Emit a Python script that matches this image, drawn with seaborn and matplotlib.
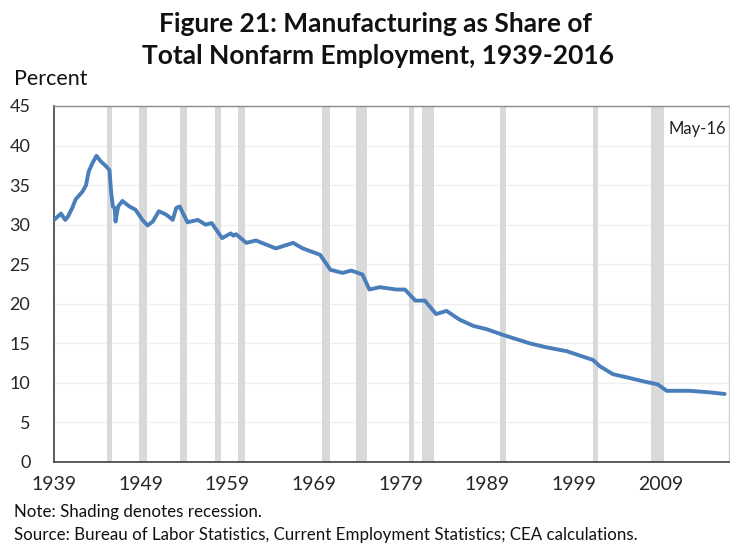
import matplotlib
matplotlib.use("Agg")
import matplotlib.pyplot as plt
import seaborn as sns
import pandas as pd

# ---- data ----
years = [1939.0, 1939.3, 1939.8, 1940.3, 1940.6, 1941.1, 1941.5, 1942.3, 1942.7, 1943.0,
         1943.4, 1943.9, 1944.4, 1945.0, 1945.4, 1945.6, 1945.8, 1946.0, 1946.1, 1946.4,
         1946.9, 1947.7, 1948.4, 1949.2, 1949.8, 1950.4, 1951.1, 1951.9, 1952.5, 1952.7,
         1953.1, 1953.5, 1954.4, 1955.6, 1956.5, 1957.2, 1958.4, 1959.4, 1959.7, 1960.0,
         1961.2, 1962.3, 1964.6, 1966.6, 1967.7, 1969.7, 1970.9, 1972.3, 1973.3, 1974.6,
         1975.4, 1976.6, 1978.5, 1979.5, 1980.7, 1981.8, 1983.1, 1984.3, 1985.8, 1987.4,
         1988.9, 1991.0, 1993.9, 1995.8, 1998.2, 2000.1, 2001.2, 2002.0, 2003.5, 2005.1,
         2007.0, 2008.7, 2009.7, 2012.4, 2014.7, 2016.4]
share = [30.6, 30.9, 31.4, 30.6, 31.0, 32.1, 33.2, 34.2, 35.0, 36.7,
         37.7, 38.7, 38.0, 37.4, 36.9, 34.0, 32.3, 32.1, 30.4, 32.3,
         33.0, 32.3, 31.9, 30.6, 29.9, 30.4, 31.7, 31.3, 30.8, 30.6,
         32.1, 32.3, 30.3, 30.6, 30.0, 30.2, 28.3, 28.9, 28.6, 28.8,
         27.7, 28.0, 27.0, 27.7, 27.0, 26.2, 24.3, 23.9, 24.2, 23.7,
         21.8, 22.1, 21.8, 21.8, 20.4, 20.4, 18.7, 19.1, 18.0, 17.2,
         16.8, 16.0, 15.0, 14.5, 14.0, 13.3, 12.9, 12.1, 11.1, 10.7,
         10.2, 9.8, 9.0, 9.0, 8.8, 8.6]

rec_start = [1945.08, 1948.83, 1953.5, 1957.58, 1960.25, 1969.92, 1973.83, 1980.0, 1981.5, 1990.5, 2001.17, 2007.92]
rec_end = [1945.75, 1949.75, 1954.33, 1958.25, 1961.08, 1970.83, 1975.17, 1980.5, 1982.83, 1991.17, 2001.83, 2009.42]

xtick_years = [1939, 1949, 1959, 1969, 1979, 1989, 1999, 2009]
yticks = [0, 5, 10, 15, 20, 25, 30, 35, 40, 45]

df = pd.DataFrame({"year": years, "share": share})

sns.set_theme(style="white")
plt.rcParams["font.family"] = ["Lato", "DejaVu Sans"]

W, H = 730, 544
fig = plt.figure(figsize=(7.3, 5.44), dpi=100)
ax = fig.add_axes([54 / W, (H - 462) / H, (729 - 54) / W, (462 - 106) / H])

for s, e in zip(rec_start, rec_end):
    ax.axvspan(s, e, color="#d9d9d9", lw=0, zorder=1)

for y in yticks[1:]:
    ax.axhline(y, color="#f0f0f0", lw=1, zorder=0.5)

sns.lineplot(data=df, x="year", y="share", ax=ax, color="#4a7ebb", lw=2.8, zorder=3)

ax.set_xlim(1939.0, 2016.9)
ax.set_ylim(0, 45)
ax.set_xticks(xtick_years)
ax.set_xticklabels([str(y) for y in xtick_years], fontsize=14)
ax.set_yticks(yticks)
ax.set_yticklabels([str(y) for y in yticks], fontsize=13)
ax.set_xlabel("")
ax.set_ylabel("")
ax.tick_params(axis="x", direction="in", length=4, width=1, color="#404040", pad=10)
ax.tick_params(axis="y", direction="out", length=4, width=1, color="#404040", pad=13)

for side in ["left", "bottom"]:
    ax.spines[side].set_color("#404040")
    ax.spines[side].set_linewidth(1.2)
for side in ["top", "right"]:
    ax.spines[side].set_color("#8c8c8c")
    ax.spines[side].set_linewidth(1.0)
ax.spines["right"].set_color("#d0d0d0")

ax.text(0.996, 0.936, "May-16", transform=ax.transAxes, ha="right", va="center", fontsize=12, color="#222222")

fig.text(375.5 / W, 1 - 31.7 / H, "Figure 21: Manufacturing as Share of", ha="center", va="baseline",
         fontsize=19, fontweight="bold", color="#111111")
fig.text(378 / W, 1 - 64 / H, "Total Nonfarm Employment, 1939-2016", ha="center", va="baseline",
         fontsize=19, fontweight="bold", color="#111111")
fig.text(14 / W, 1 - 85 / H, "Percent", ha="left", va="baseline", fontsize=15.5, color="#111111")
fig.text(14 / W, 1 - 512 / H, "Note: Shading denotes recession.", ha="left", va="center", fontsize=12.2, color="#111111")
fig.text(14 / W, 1 - 535 / H, "Source: Bureau of Labor Statistics, Current Employment Statistics; CEA calculations.",
         ha="left", va="center", fontsize=12.2, color="#111111")

fig.savefig("out.png", dpi=100)
